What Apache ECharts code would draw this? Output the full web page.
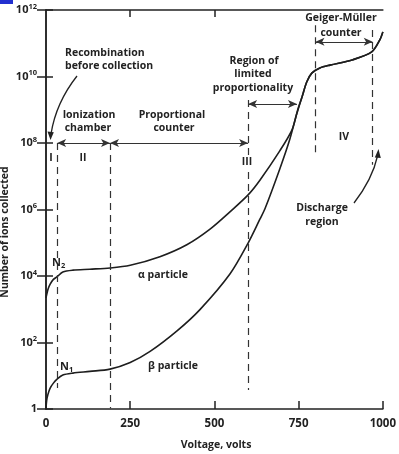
<!DOCTYPE html>
<html><head><meta charset="utf-8">
<script src="https://cdn.jsdelivr.net/npm/echarts@6/dist/echarts.min.js"></script>
<style>html,body{margin:0;padding:0;background:#fff}#c{width:399px;height:454px}</style>
</head><body><div id="c"></div>
<script>
// Voltage (volts) and number of ions collected
const alphaVolts  = [0, 6, 12, 22, 33, 50, 80, 130, 190, 250, 338, 418, 487, 546, 600, 635, 694, 730, 745, 760, 774, 789, 813, 843, 911, 967, 991, 1000];
const alphaCounts = [2.2e3, 4.0e3, 5.6e3, 7.9e3, 9.5e3, 1.32e4, 1.5e4, 1.6e4, 1.74e4, 2.1e4, 3.8e4, 8.7e4, 2.57e5, 8.5e5, 2.75e6, 7.6e6, 5.8e7, 2.45e8, 7.9e8, 2.4e9, 6.8e9, 1.26e10, 1.8e10, 2.2e10, 3.2e10, 5.5e10, 1.26e11, 2.2e11];
const betaVolts   = [0, 2, 6, 12, 22, 33, 50, 80, 130, 190, 250, 309, 389, 457, 546, 600, 635, 650, 694, 724, 748, 760, 774, 789, 813, 843, 911, 967, 991, 1000];
const betaCounts  = [1, 1.8, 2.8, 4.2, 6.0, 7.9, 10.5, 12, 13.5, 15.8, 25, 54, 224, 977, 1.15e4, 9.8e4, 5.1e5, 1.05e6, 1.66e7, 1.32e8, 1.05e9, 2.4e9, 6.8e9, 1.26e10, 1.8e10, 2.2e10, 3.2e10, 5.5e10, 1.26e11, 2.2e11];
const xTickLabels = [0, 250, 500, 750, 1000];
const topTicks = [250, 500];
// Region boundaries (volts) with the count range each dashed line covers
const boundaryVolts = [33, 190, 600, 800, 970];
const boundaryFrom  = [1e8, 1e8, 1.95e9, 3.5e11, 2.5e11];
const boundaryTo    = [4.3, 1.05, 3.7, 5e7, 2.2e7];
// Region arrows: [start volts, end volts, count level]
const regionArrows = [[33, 190, 1e8], [190, 600, 1e8], [600, 745, 1.5e9], [800, 970, 1.1e11]];

const FONT = 'Open Sans';
const INK = '#222';
const W = 700;
const chart = echarts.init(document.getElementById('c'), null, {renderer: 'canvas'});

const dashedLines = boundaryVolts.map((v, i) => [
  {coord: [v, boundaryFrom[i]]}, {coord: [v, boundaryTo[i]]}
]);
const arrowLines = regionArrows.map(a => [
  {coord: [a[0], a[2]], symbol: 'arrow', symbolSize: [6, 9]},
  {coord: [a[1], a[2]], symbol: 'arrow', symbolSize: [6, 9]}
]);

function txt(x, y, s, opt) {
  return Object.assign({
    type: 'text', x: x, y: y, z: 10,
    style: Object.assign({text: s, font: W + ' 10.5px "' + FONT + '"', fill: INK, align: 'center', verticalAlign: 'middle'}, (opt && opt.style) || {})
  }, opt && opt.extra || {});
}

const yLabelFmt = v => {
  const e = Math.round(Math.log10(v));
  return e === 0 ? '1' : '10{s|' + e + '}';
};

chart.setOption({
  animation: false,
  backgroundColor: '#fff',
  grid: {left: 46, right: 16, top: 10, bottom: 45},
  xAxis: [{
    type: 'value', min: 0, max: 1000, interval: 250, position: 'bottom',
    axisLine: {show: true, lineStyle: {color: INK, width: 1.5}},
    axisTick: {show: true, inside: true, length: 8, lineStyle: {color: INK, width: 1.5}},
    axisLabel: {color: INK, fontFamily: FONT, fontWeight: W, fontSize: 11.5, margin: 9,
      formatter: v => xTickLabels.includes(v) ? String(v) : ''},
    splitLine: {show: false}
  }, {
    type: 'value', min: 0, max: 1000, interval: 250, position: 'top',
    axisLine: {show: true, lineStyle: {color: INK, width: 1.5}},
    axisTick: {show: true, inside: true, length: 7, customValues: topTicks, lineStyle: {color: INK, width: 1.5}},
    axisLabel: {show: false}, splitLine: {show: false}
  }],
  yAxis: [{
    type: 'log', logBase: 10, min: 1, max: 1e12, interval: 2, position: 'left',
    axisLine: {show: true, lineStyle: {color: INK, width: 1.5}},
    axisTick: {show: true, inside: true, length: 7, lineStyle: {color: INK, width: 1.5}},
    axisLabel: {color: INK, fontFamily: FONT, fontWeight: W, fontSize: 11, margin: 9,
      formatter: yLabelFmt,
      rich: {s: {fontSize: 7.5, fontFamily: FONT, fontWeight: W, color: INK, verticalAlign: 'top', padding: [0, 0, 7, 0]}}},
    splitLine: {show: false}, minorTick: {show: false}
  }, {
    type: 'log', logBase: 10, min: 1, max: 1e12, interval: 2, position: 'right',
    axisLine: {show: true, lineStyle: {color: INK, width: 1.5}},
    axisTick: {show: true, inside: true, length: 9, lineStyle: {color: INK, width: 1.5}},
    axisLabel: {show: false}, splitLine: {show: false}
  }],
  series: [{
    name: 'alpha', type: 'line', xAxisIndex: 0, yAxisIndex: 0,
    data: alphaVolts.map((v, i) => [v, alphaCounts[i]]),
    showSymbol: false, smooth: 0.3,
    lineStyle: {color: '#1e1e1e', width: 1.6},
    markLine: {
      silent: true, animation: false, symbol: ['none', 'none'],
      label: {show: false},
      lineStyle: {color: '#333', width: 1.2, type: [7, 5]},
      data: dashedLines
    }
  }, {
    name: 'beta', type: 'line', xAxisIndex: 0, yAxisIndex: 0,
    data: betaVolts.map((v, i) => [v, betaCounts[i]]),
    showSymbol: false, smooth: 0.3,
    lineStyle: {color: '#1e1e1e', width: 1.6},
    markLine: {
      silent: true, animation: false,
      label: {show: false},
      lineStyle: {color: '#333', width: 1.2, type: 'solid'},
      data: arrowLines
    }
  }],
  graphic: [
    {type: 'rect', shape: {x: 0, y: 0, width: 13, height: 4}, style: {fill: '#2230d0'}},
    txt(65, 53, 'Recombination', {style: {align: 'left'}}),
    txt(65, 66, 'before collection', {style: {align: 'left'}}),
    {type: 'bezierCurve', shape: {x1: 77, y1: 76, cpx1: 62, cpy1: 95, cpx2: 54, cpy2: 115, x2: 51, y2: 134},
      style: {stroke: INK, lineWidth: 1.3, fill: null}},
    {type: 'polygon', shape: {points: [[50.5, 140], [47.5, 131.5], [53.8, 132.3]]}, style: {fill: INK}},
    txt(89, 115, 'Ionization'), txt(88, 128, 'chamber'),
    txt(172, 115, 'Proportional'), txt(174, 128, 'counter'),
    txt(254, 61, 'Region of'), txt(253, 74, 'limited'), txt(253, 88, 'proportionality'),
    txt(341, 18, 'Geiger-Müller', {style: {backgroundColor: '#fff', padding: [0, 1]}}), txt(341, 33, 'counter'),
    txt(51, 158, 'I'), txt(83, 158, 'II'),
    txt(247, 162, 'III', {style: {backgroundColor: '#fff', padding: [1, 0]}}),
    txt(344, 137, 'IV'),
    txt(322, 208, 'Discharge'), txt(322, 222, 'region'),
    {type: 'bezierCurve', shape: {x1: 354, y1: 203, cpx1: 364, cpy1: 190, cpx2: 374, cpy2: 172, x2: 377.5, y2: 156},
      style: {stroke: INK, lineWidth: 1.3, fill: null}},
    {type: 'polygon', shape: {points: [[378.5, 149], [374.8, 157.5], [380.8, 158]]}, style: {fill: INK}},
    txt(163, 275, 'α particle'), txt(173, 366, 'β particle'),
    {type: 'text', x: 52, y: 263, z: 10, style: {text: 'N{b|2}', font: W + ' 11px "' + FONT + '"', fill: INK, align: 'left', verticalAlign: 'middle',
      rich: {b: {fontSize: 7.5, fontFamily: FONT, fontWeight: W, fill: INK, verticalAlign: 'bottom', padding: [5, 0, 0, 0]}}}},
    {type: 'text', x: 60, y: 367, z: 10, style: {text: 'N{b|1}', font: W + ' 11px "' + FONT + '"', fill: INK, align: 'left', verticalAlign: 'middle',
      rich: {b: {fontSize: 7.5, fontFamily: FONT, fontWeight: W, fill: INK, verticalAlign: 'bottom', padding: [5, 0, 0, 0]}}}},
    txt(216, 445, 'Voltage, volts'),
    {type: 'text', x: 5, y: 232, rotation: Math.PI / 2, z: 10,
      style: {text: 'Number of ions collected', font: W + ' 10.5px "' + FONT + '"', fill: INK, align: 'center', verticalAlign: 'middle'}}
  ]
});
</script></body></html>
